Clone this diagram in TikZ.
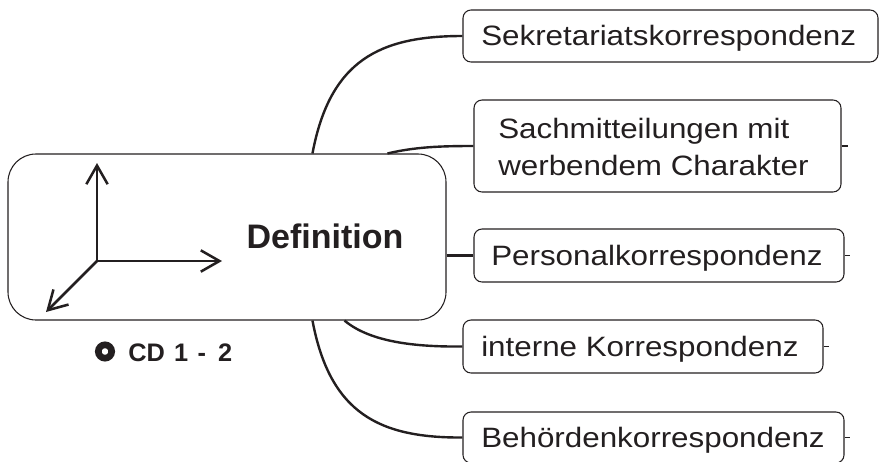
\documentclass[tikz,border=0pt]{standalone}
\usepackage{fontspec}
\setmainfont{Liberation Sans}
\newfontfamily\boxfont[FakeStretch=1.12]{Liberation Sans}
\usetikzlibrary{arrows.meta,calc}
\definecolor{ink}{HTML}{231F20}
\begin{document}
\begin{tikzpicture}[x=0.75pt,y=-0.75pt,
  box/.style={draw=ink, line width=0.8pt, rounded corners=6pt, inner sep=0pt},
  mainbox/.style={draw=ink, line width=0.8pt, rounded corners=21pt, inner sep=0pt,
                  minimum width=328.5pt, minimum height=124.5pt},
  lbl/.style={anchor=base west, inner sep=0pt, text=ink,
              font=\boxfont\fontsize{21pt}{27.75pt}\selectfont},
  conn/.style={draw=ink, line width=1.8pt},
  stub/.style={draw=ink, line width=0.8pt},
  axis/.style={draw=ink, line width=1.9pt, line cap=round, line join=round,
               -{Straight Barb[length=14pt,width=16pt]}}]

\useasboundingbox (0,0) rectangle (879,461);

% central box
\node[mainbox] (main) at (227,237) {};
\node[anchor=base, inner sep=0pt, text=ink,
      font=\bfseries\fontsize{25.5pt}{30pt}\selectfont] (def) at (325,248) {Definition};

% axes icon
\coordinate (o) at (97,261);
\coordinate (ux) at (222,261);
\coordinate (uy) at (97,163);
\coordinate (uz) at (46,312);
\draw[axis] (o) -- (uy);
\draw[axis] (o) -- (ux);
\draw[axis] (o) -- (uz);

% CD label
\node[circle, draw=ink, line width=5pt, minimum size=10pt, inner sep=0pt] (ring) at (105,351.5) {};
\node[anchor=base west, inner sep=0pt, text=ink,
      font=\bfseries\fontsize{19pt}{22pt}\selectfont] (cd) at (128,361)
      {CD\hspace{7pt}1\hspace{7pt}-\hspace{9pt}2};

% branch boxes
\node[box, minimum width=311.25pt, minimum height=39pt]    (b1) at (670.5,36) {};
\node[box, minimum width=275.25pt, minimum height=69pt]    (b2) at (657.5,146) {};
\node[box, minimum width=277.5pt,  minimum height=39.75pt] (b3) at (659,255.5) {};
\node[box, minimum width=270pt,    minimum height=39.75pt] (b4) at (643,346.5) {};
\node[box, minimum width=285.75pt, minimum height=38.25pt] (b5) at (653.5,437.5) {};

\node[lbl] (t1)  at (481,45)    {Sekretariatskorrespondenz};
\node[lbl] (t2a) at (498,138)   {Sachmitteilungen mit};
\node[lbl] (t2b) at (498,175)   {werbendem Charakter};
\node[lbl] (t3)  at (491,265)   {Personalkorrespondenz};
\node[lbl] (t4)  at (481,356.5) {interne Korrespondenz};
\node[lbl] (t5)  at (481,447.5) {Behördenkorrespondenz};

% connectors
\draw[conn] ($(main.north west)+(305,0)$) .. controls (330,60) and (380,36) .. (b1.west);
\draw[conn] ($(main.north west)+(380,0)$) .. controls (415,147) and (440,146) .. (b2.west);
\draw[conn] (b3.west -| main.east) -- (b3.west);
\draw[conn] ($(main.south west)+(337,0)$) .. controls (370,342) and (415,347) .. (b4.west);
\draw[conn] ($(main.south west)+(305,0)$) .. controls (330,414) and (380,438) .. (b5.west);

% small stubs on the right
\draw[stub] (b2.east) -- ++(6,0);
\draw[stub] (b3.east) -- ++(5,0);
\draw[stub] (b4.east) -- ++(5,0);
\draw[stub] (b5.east) -- ++(5,0);
\end{tikzpicture}
\end{document}
